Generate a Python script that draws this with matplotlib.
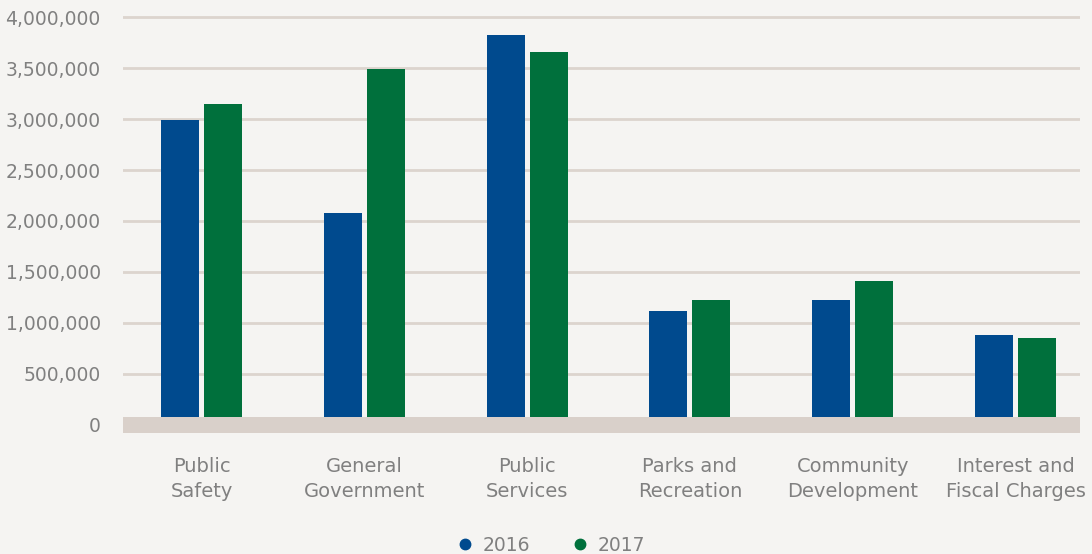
import numpy as np
import matplotlib.pyplot as plt
from matplotlib.lines import Line2D
from matplotlib.ticker import FuncFormatter

# values
categories = ["Public\nSafety", "General\nGovernment", "Public\nServices",
              "Parks and\nRecreation", "Community\nDevelopment", "Interest and\nFiscal Charges"]
values_2016 = [2990000, 2080000, 3820000, 1120000, 1220000, 880000]
values_2017 = [3150000, 3490000, 3660000, 1220000, 1410000, 850000]
yticks = [0, 500000, 1000000, 1500000, 2000000, 2500000, 3000000, 3500000, 4000000]

bg = '#f5f4f2'
grid_col = '#dcd4ce'
floor_col = '#d9d0ca'
blue = '#004a8e'
green = '#00703c'
text_col = '#808080'

plt.rcParams['font.family'] = ['DejaVu Sans']

fig = plt.figure(figsize=(10.92, 5.54), dpi=100, facecolor=bg)
ax = fig.add_axes([123 / 1092, 121 / 554, 957 / 1092, 423 / 554])
ax.set_facecolor(bg)

x = np.arange(len(categories))
w = 0.233
off = 0.132
ax.bar(x - off, values_2016, w, color=blue, zorder=2)
ax.bar(x + off, values_2017, w, color=green, zorder=2)

# floor band of the 3d chart
ax.axhspan(-80000, 75000, color=floor_col, zorder=3, lw=0)

ax.set_xlim(-0.482, 5.396)
ax.set_ylim(-80000, 4070000)
ax.set_yticks(yticks)
ax.yaxis.set_major_formatter(FuncFormatter(lambda v, p: f"{int(v):,}"))
ax.grid(axis='y', color=grid_col, lw=2.0, zorder=1)
ax.set_axisbelow(True)

ax.set_xticks(x)
ax.set_xticklabels(categories, linespacing=1.4)
ax.tick_params(axis='y', length=0, pad=16, labelsize=13.5, labelcolor=text_col)
ax.tick_params(axis='x', length=0, pad=17, labelsize=14, labelcolor=text_col)
for s in ax.spines.values():
    s.set_visible(False)

handles = [Line2D([], [], ls='none', marker='o', ms=7.5, color=blue, label='2016'),
           Line2D([], [], ls='none', marker='o', ms=7.5, color=green, label='2017')]
fig.legend(handles=handles, loc='center', bbox_to_anchor=(0.504, 0.016), ncol=2,
           frameon=False, fontsize=13.5, labelcolor=text_col,
           handletextpad=0.4, columnspacing=2.2, handlelength=1.0)

fig.savefig('out.png', dpi=100, facecolor=bg)
